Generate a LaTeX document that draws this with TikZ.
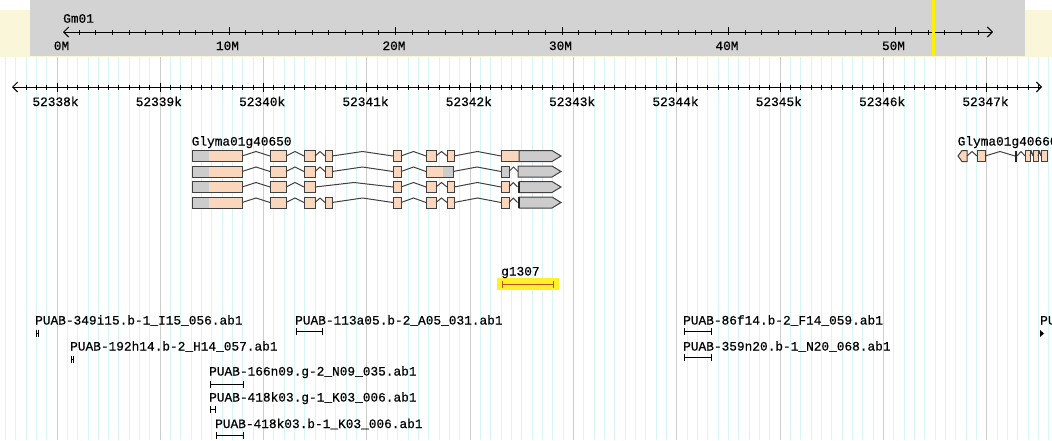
\documentclass[tikz,border=0pt]{standalone}
\usepackage{fontspec}
\newfontfamily\gdfont[FakeBold=0.5]{Liberation Mono}
\usetikzlibrary{arrows.meta}

\definecolor{creamband}{RGB}{250,246,218}
\definecolor{panelgray}{RGB}{211,211,211}
\definecolor{gridcyan}{RGB}{214,246,246}
\definecolor{gridgray}{RGB}{205,205,205}
\definecolor{cdspeach}{RGB}{250,214,188}
\definecolor{utrgray}{RGB}{204,204,204}
\definecolor{hitline}{RGB}{190,80,40}
\definecolor{hitglow}{RGB}{255,240,40}
\definecolor{markyellow}{RGB}{255,240,0}

\newcommand{\lblfont}{\gdfont\fontsize{12.8}{14}\selectfont}
\newcommand{\halfh}{5.5}
\newcommand{\kzero}{57}
\newcommand{\kstep}{103.33}
\newcommand{\mzero}{62.5}
\newcommand{\mstep}{16.65}
\newcommand{\rowA}{156}
\newcommand{\rowB}{171.5}
\newcommand{\rowC}{187}
\newcommand{\rowD}{202.5}

%% pieces of a transcript glyph
\newcommand{\exonbox}[4][exon]{\draw[#1] (#2,{#4-\halfh}) rectangle (#3,{#4+\halfh});}
\newcommand{\intron}[3]{\draw[intron] (#1,#3) -- ({(#1+#2)/2},{#3-4.5}) -- (#2,#3);}
\newcommand{\splitbox}[6]{\fill[#4] (#1,{#6-\halfh}) rectangle (#2,{#6+\halfh}); \fill[#5] (#2,{#6-\halfh}) rectangle (#3,{#6+\halfh}); \draw[outline] (#1,{#6-\halfh}) rectangle (#3,{#6+\halfh});}
\newcommand{\tailarrow}[3]{\draw[utr] (#1,{#3-\halfh}) -- ({#2-9},{#3-\halfh}) -- (#2,#3) -- ({#2-9},{#3+\halfh}) -- (#1,{#3+\halfh}) -- cycle;}
\newcommand{\stopbar}[2]{\fill[black!85] ({#1-1},{#2-\halfh}) rectangle ({#1+1},{#2+\halfh});}

\tikzset{
  exon/.style={draw=black!75, fill=cdspeach, line width=1pt},
  utr/.style={draw=black!75, fill=utrgray, line width=1pt},
  outline/.style={draw=black!75, line width=1pt},
  intron/.style={draw=black!75, line width=1pt},
  axline/.style={line width=1pt, {Straight Barb[length=5pt,width=10pt]}-{Straight Barb[length=5pt,width=10pt]}},
  axtick/.style={line width=1pt},
  gridminor/.style={draw=gridcyan, line width=1pt},
  gridmajor/.style={draw=gridgray, line width=1pt},
  lbl/.style={font=\lblfont, anchor=base west, inner sep=0pt},
  axlbl/.style={font=\lblfont, anchor=base, inner sep=0pt},
  clone/.style={line width=1pt, {Bar[width=7pt]}-{Bar[width=7pt]}}
}

\begin{document}
\begin{tikzpicture}[x=1pt,y=-1pt]
\useasboundingbox (0,0) rectangle (1052,440);
\clip (0,0) rectangle (1052,440);

%% overview panel
\fill[creamband] (0,10) rectangle (1052,57);
\fill[panelgray] (30,0) rectangle (1025,56);

%% grid lines below the panel
\foreach \i in {-5,...,96} \draw[gridminor] ({\kzero+\kstep*\i/10},57) -- ({\kzero+\kstep*\i/10},440);
\foreach \i in {0,...,9} \draw[gridmajor] ({\kzero+\kstep*\i},57) -- ({\kzero+\kstep*\i},440);

%% chromosome axis
\node[lbl] (chrname) at (63,22.7) {Gm01};
\coordinate (mleft) at (63,32);
\coordinate (mright) at (993,32);
\draw[axline] (mleft) -- (mright);
\foreach \mv in {1,...,55} \draw[axtick] ({\mzero+\mstep*\mv},29.5) -- ({\mzero+\mstep*\mv},34.5);
\node[axlbl] (mlbl0) at (61.5,50) {0M};
\foreach \mv in {10,20,...,50} {
  \draw[axtick] ({\mzero+\mstep*\mv},26.5) -- ({\mzero+\mstep*\mv},34.5);
  \node[axlbl] (mlbl\mv) at ({\mzero+\mstep*\mv-1.5},50) {\mv M};
}
\fill[markyellow] (931.8,0) rectangle (934.8,56); % current region

%% detail axis
\coordinate (kleft) at (12,87);
\coordinate (kright) at (1042,87);
\draw[axline] (kleft) -- (kright);
\foreach \i in {-3,...,95} \draw[axtick] ({\kzero+\kstep*\i/10},84.5) -- ({\kzero+\kstep*\i/10},89.5);
\foreach \n in {0,...,9} {
  \draw[axtick] ({\kzero+\kstep*\n},82.5) -- ({\kzero+\kstep*\n},91.5);
  \node[axlbl] (klbl\n) at ({\kzero+\kstep*\n-1.5},106) {\number\numexpr52338+\n\relax k};
}

%% gene Glyma01g40650, four transcripts
\node[lbl] (g40650) at (191.5,145.5) {Glyma01g40650};

% transcript 1
\splitbox{192}{209}{242}{utrgray}{cdspeach}{\rowA}
\intron{242}{270}{\rowA} \exonbox{270}{286}{\rowA}
\intron{286}{304}{\rowA} \exonbox{304}{315}{\rowA}
\intron{315}{325}{\rowA} \exonbox{325}{332}{\rowA}
\intron{332}{393}{\rowA} \exonbox{393}{401}{\rowA}
\intron{401}{426}{\rowA} \exonbox{426}{436}{\rowA}
\intron{436}{447}{\rowA} \exonbox{447}{454}{\rowA}
\intron{454}{501}{\rowA} \exonbox{501}{519}{\rowA}
\tailarrow{519}{561}{\rowA}

% transcript 2
\splitbox{192}{209}{242}{utrgray}{cdspeach}{\rowB}
\intron{242}{270}{\rowB} \exonbox{270}{286}{\rowB}
\intron{286}{304}{\rowB} \exonbox{304}{315}{\rowB}
\intron{315}{325}{\rowB} \exonbox{325}{332}{\rowB}
\intron{332}{393}{\rowB} \exonbox{393}{401}{\rowB}
\intron{401}{426}{\rowB} \splitbox{426}{443}{453}{cdspeach}{utrgray}{\rowB}
\intron{453}{501}{\rowB} \exonbox[utr]{501}{509}{\rowB}
\intron{509}{518}{\rowB}
\tailarrow{518}{561}{\rowB}

% transcript 3
\splitbox{192}{209}{242}{utrgray}{cdspeach}{\rowC}
\intron{242}{270}{\rowC} \exonbox{270}{286}{\rowC}
\intron{286}{304}{\rowC} \exonbox{304}{315}{\rowC}
\intron{315}{393}{\rowC} \exonbox{393}{401}{\rowC}
\intron{401}{426}{\rowC} \exonbox{426}{436}{\rowC}
\intron{436}{447}{\rowC} \exonbox{447}{454}{\rowC}
\intron{454}{501}{\rowC} \exonbox{501}{509}{\rowC}
\intron{509}{517.5}{\rowC}
\tailarrow{519}{561}{\rowC} \stopbar{518.5}{\rowC}

% transcript 4
\splitbox{192}{209}{242}{utrgray}{cdspeach}{\rowD}
\intron{242}{270}{\rowD} \exonbox{270}{286}{\rowD}
\intron{286}{304}{\rowD} \exonbox{304}{315}{\rowD}
\intron{315}{325}{\rowD} \exonbox{325}{332}{\rowD}
\intron{332}{393}{\rowD} \exonbox{393}{401}{\rowD}
\intron{401}{426}{\rowD} \exonbox{426}{436}{\rowD}
\intron{436}{447}{\rowD} \exonbox{447}{454}{\rowD}
\intron{454}{501}{\rowD} \exonbox{501}{509}{\rowD}
\intron{509}{517.5}{\rowD}
\tailarrow{519}{561}{\rowD} \stopbar{518.5}{\rowD}

%% gene Glyma01g40660 (runs off the right edge)
\node[lbl] (g40660) at (957.5,145.5) {Glyma01g40660};
\draw[exon] (958,\rowA) -- (962,{\rowA-\halfh}) -- (967,{\rowA-\halfh}) -- (967,{\rowA+\halfh}) -- (962,{\rowA+\halfh}) -- cycle;
\intron{967}{977}{\rowA} \exonbox{977}{985}{\rowA}
\intron{985}{1015}{\rowA} \stopbar{1016}{\rowA}
\intron{1017}{1025}{\rowA} \exonbox{1025}{1030}{\rowA}
\intron{1030}{1033}{\rowA} \exonbox{1033}{1038}{\rowA}
\intron{1038}{1041}{\rowA} \exonbox{1041}{1047}{\rowA}

%% hit g1307
\fill[hitglow] (497,278) rectangle (558.5,290);
\node[lbl] (hitlbl) at (501,275.5) {g1307};
\coordinate (hitstart) at (502,284.5);
\coordinate (hitend) at (554,284.5);
\draw[clone, draw=hitline] (hitstart) -- (hitend);

%% clone end reads
\node[lbl] (c349i15) at (35,324.5) {PUAB-349i15.b-1\_I15\_056.ab1};
\draw[clone] (35.5,333) -- (38.5,333);
\node[lbl] (c192h14) at (70,350.5) {PUAB-192h14.b-2\_H14\_057.ab1};
\draw[clone] (70.5,359.5) -- (73.5,359.5);
\node[lbl] (c113a05) at (295,324.5) {PUAB-113a05.b-2\_A05\_031.ab1};
\draw[clone] (295.5,331.5) -- (323,331.5);
\node[lbl] (c166n09) at (209,375.5) {PUAB-166n09.g-2\_N09\_035.ab1};
\draw[clone] (209.5,384) -- (243.5,384);
\node[lbl] (c418k03g) at (209,401.5) {PUAB-418k03.g-1\_K03\_006.ab1};
\draw[clone] (209.5,409) -- (215.5,409);
\node[lbl] (c418k03b) at (215,428) {PUAB-418k03.b-1\_K03\_006.ab1};
\draw[clone] (215.5,435) -- (243.5,435);
\node[lbl] (c86f14) at (683,324.5) {PUAB-86f14.b-2\_F14\_059.ab1};
\draw[clone] (683.5,331.5) -- (712,331.5);
\node[lbl] (c359n20) at (683,350.5) {PUAB-359n20.b-1\_N20\_068.ab1};
\draw[clone] (683.5,357) -- (712,357);
\node[lbl] (cright) at (1040,324.5) {PUAB};
\fill (1040,330) -- (1044,333.5) -- (1040,337) -- cycle;

\end{tikzpicture}
\end{document}
